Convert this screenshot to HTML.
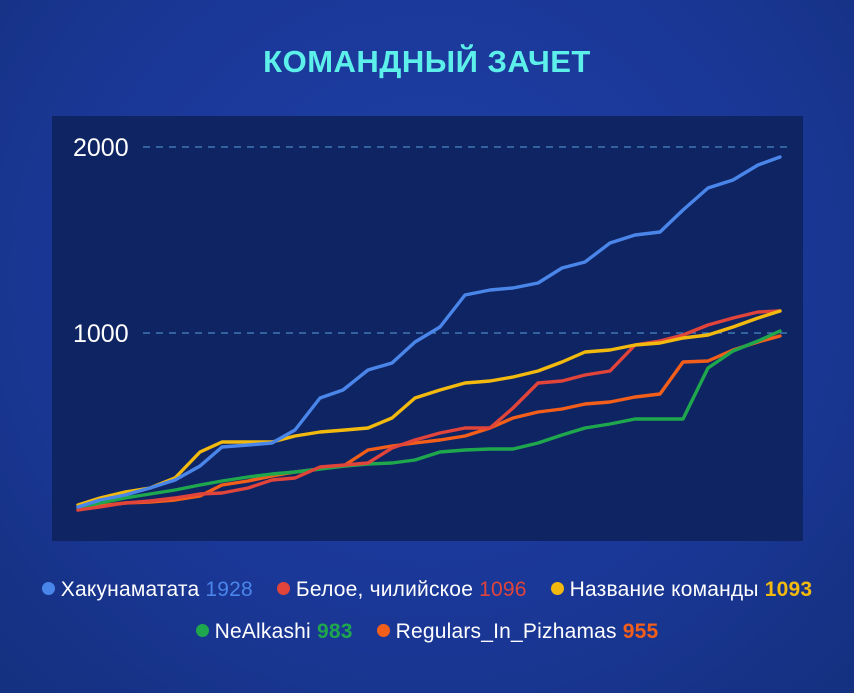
<!DOCTYPE html>
<html><head><meta charset="utf-8"><style>
body{margin:0;width:854px;height:693px;overflow:hidden;background:radial-gradient(ellipse at 50% 40%,#1f40a8 0%,#1a3796 60%,#14307f 100%);font-family:"Liberation Sans","DejaVu Sans",sans-serif;}
.t{position:absolute;left:0;width:854px;top:44px;text-align:center;color:#5df0ea;font-size:31px;font-weight:bold;letter-spacing:0.5px}
.lg{position:absolute;left:0;width:854px;text-align:center;color:#fff;font-size:21px;white-space:nowrap;letter-spacing:0.2px}
.d{display:inline-block;width:13px;height:13px;border-radius:50%;margin-right:6px;vertical-align:1px}
.g{margin-right:24px}
</style></head><body>
<div class="t">КОМАНДНЫЙ ЗАЧЕТ</div>
<svg width="854" height="693" style="position:absolute;left:0;top:0">
<rect x="52" y="116" width="751" height="425" fill="#0f2462"/>
<line x1="143" y1="147" x2="790" y2="147" stroke="#4a86c5" stroke-width="1.2" stroke-dasharray="7,6"/>
<line x1="143" y1="333" x2="790" y2="333" stroke="#4a86c5" stroke-width="1.2" stroke-dasharray="7,6"/>
<text x="73" y="156" fill="#fff" font-size="25" font-family="Liberation Sans,sans-serif">2000</text>
<text x="73" y="342" fill="#fff" font-size="25" font-family="Liberation Sans,sans-serif">1000</text>
<g fill="none" stroke-width="3.4" stroke-linejoin="round" stroke-linecap="round">
<polyline stroke="#f35f1a" points="78,510 100,506 125,503 150,502 175,500 200,496 222,485 248,481 272,476 295,472 320,469 345,465 368,450 392,446 415,443 440,440 465,436 490,428 513,418 538,412 562,409 585,404 610,402 635,397 660,394 683,362 708,361 733,350 758,342 780,336"/>
<polyline stroke="#1fa74d" points="78,508 100,503 125,498 150,494 175,490 200,485 222,481 248,477 272,474 295,472 320,469 345,466 368,464 392,463 415,460 440,452 465,450 490,449 513,449 538,443 562,435 585,428 610,424 635,419 660,419 683,419 708,368 733,351 758,341 780,331"/>
<polyline stroke="#e0443a" points="78,510 100,507 125,503 150,501 175,498 200,494 222,493 248,488 272,480 295,478 320,467 345,465 368,463 392,448 415,440 440,433 465,428 490,428 513,408 538,383 562,381 585,375 610,371 635,345 660,341 683,335 708,325 733,318 758,312 780,311"/>
<polyline stroke="#f2b90f" points="78,505 100,498 125,492 150,488 175,478 200,452 222,442 248,442 272,442 295,436 320,432 345,430 368,428 392,418 415,398 440,390 465,383 490,381 513,377 538,371 562,362 585,352 610,350 635,345 660,343 683,338 708,335 733,327 758,318 780,311"/>
<polyline stroke="#4a86ea" points="78,507 100,500 125,495 150,488 175,480 200,466 222,447 248,445 272,443 295,430 320,398 343,390 368,370 392,363 415,342 440,327 465,295 490,290 513,288 538,283 562,268 585,262 610,243 635,235 660,232 683,210 708,188 733,180 758,165 780,157"/>
</g>
</svg>
<div class="lg" style="top:578px"><span class="g"><span class="d" style="background:#4a86ea"></span>Хакунаматата <span style="color:#4a86ea">1928</span></span><span class="g"><span class="d" style="background:#e0443a"></span>Белое, чилийское <span style="color:#e0443a">1096</span></span><span><span class="d" style="background:#f2b90f"></span>Название команды <b style="color:#f2b90f">1093</b></span></div>
<div class="lg" style="top:620px"><span class="g"><span class="d" style="background:#1fa74d"></span>NeAlkashi <b style="color:#1fa74d">983</b></span><span><span class="d" style="background:#f35f1a"></span>Regulars_In_Pizhamas <b style="color:#f35f1a">955</b></span></div>
</body></html>
